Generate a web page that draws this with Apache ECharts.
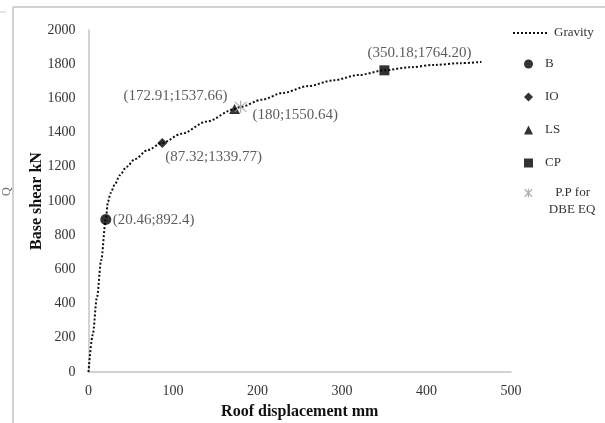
<!DOCTYPE html>
<html>
<head>
<meta charset="utf-8">
<script src="https://cdn.jsdelivr.net/npm/echarts@6/dist/echarts.min.js"></script>
<style>
  html, body { margin: 0; padding: 0; background: #fff; }
  #chart { width: 605px; height: 423px; }
</style>
</head>
<body>
<div id="chart"></div>
<script>
// Pushover (capacity) curve under gravity load: roof displacement (mm) vs base shear (kN)
const gravityDisp  = [0, 5, 10, 15, 20.46, 23, 26, 31, 37, 45, 55, 70, 87.32, 110, 140, 172.91, 180, 205, 230, 260, 290, 320, 350.18, 380, 410, 440, 465];
const gravityShear = [0, 218, 436, 654, 892.4, 995, 1045, 1095, 1150, 1200, 1245, 1298, 1339.77, 1393, 1465, 1537.66, 1550.64, 1592, 1632, 1672, 1706, 1737, 1764.20, 1782, 1796, 1806, 1813];

// Performance levels marked on the curve (values kept as written in the labels)
const levelNames = ['B', 'IO', 'LS', 'CP', 'P.P for DBE EQ'];
const levelDisp  = ['20.46', '87.32', '172.91', '350.18', '180'];
const levelShear = ['892.4', '1339.77', '1537.66', '1764.20', '1550.64'];

// Axis ranges and tick spacing
const xTicks = { min: 0, max: 500, interval: 100 };
const yTicks = { min: 0, max: 2000, interval: 200 };

const FONT = '"Liberation Serif", "Times New Roman", serif';
const TEXT = '#333333';
const AXIS = '#c4c4c4';
const STAR = '#9a9a9a';

const asterisk = 'path://M0,0L10,10M10,0L0,10M5,-1L5,11';

const levelStyle = [
  { symbol: 'circle',   size: 11, color: '#000', label: { align: 'left',  offset: [7, 1] } },
  { symbol: 'diamond',  size: [10, 10], color: '#000', label: { align: 'left',  offset: [3, 14] } },
  { symbol: 'triangle', size: [11, 10], color: '#000', label: { align: 'right', offset: [-7, -13] } },
  { symbol: 'rect',     size: 10, color: '#000', label: { align: 'left',  offset: [-17, -17] } },
  { symbol: asterisk,   size: 12, color: 'transparent', border: STAR, label: { align: 'left', offset: [12, 8] } }
];

const series = [{
  name: 'Gravity',
  type: 'line',
  data: gravityDisp.map((d, i) => [d, gravityShear[i]]),
  symbol: 'none',
  showSymbol: false,
  smooth: 0.3,
  smoothMonotone: 'x',
  itemStyle: { color: '#111' },
  lineStyle: { color: '#111', width: 2, type: [2, 2] },
  z: 2
}];

levelNames.forEach((name, i) => {
  const s = levelStyle[i];
  series.push({
    name: name,
    type: 'scatter',
    data: [[levelDisp[i], levelShear[i]]],
    symbol: s.symbol,
    symbolSize: s.size,
    itemStyle: s.border
      ? { color: 'transparent', borderColor: s.border, borderWidth: 1.2 }
      : { color: s.color },
    label: {
      show: true,
      position: 'inside',
      align: s.label.align,
      verticalAlign: 'middle',
      offset: s.label.offset,
      formatter: () => '(' + levelDisp[i] + ';' + levelShear[i] + ')',
      fontFamily: FONT,
      fontSize: 15,
      color: TEXT
    },
    emphasis: { disabled: true },
    z: i === 4 ? 4 : 3
  });
});

const legendText = { fontFamily: FONT, fontSize: 13, color: TEXT, lineHeight: 14 };
const lastLevel = levelNames[levelNames.length - 1];

const option = {
  animation: false,
  backgroundColor: '#ffffff',
  grid: { left: 88.5, right: 94, top: 30, bottom: 51, containLabel: false, outerBoundsMode: 'none' },
  xAxis: {
    type: 'value',
    min: xTicks.min, max: xTicks.max, interval: xTicks.interval,
    name: 'Roof displacement mm',
    nameLocation: 'middle',
    nameGap: 32,
    nameMoveOverlap: false,
    nameTextStyle: { fontFamily: FONT, fontSize: 16, fontWeight: 'bold', color: '#111' },
    axisLine: { show: true, lineStyle: { color: AXIS, width: 1.5 } },
    axisTick: { show: false },
    splitLine: { show: false },
    axisLabel: { fontFamily: FONT, fontSize: 14, color: TEXT, margin: 12, formatter: (v) => String(v) }
  },
  yAxis: {
    type: 'value',
    min: yTicks.min, max: yTicks.max, interval: yTicks.interval,
    name: 'Base shear kN',
    nameLocation: 'middle',
    nameGap: 44,
    nameMoveOverlap: false,
    nameTextStyle: { fontFamily: FONT, fontSize: 16, fontWeight: 'bold', color: '#111' },
    axisLine: { show: true, lineStyle: { color: AXIS, width: 1.5 } },
    axisTick: { show: false },
    splitLine: { show: false },
    axisLabel: { fontFamily: FONT, fontSize: 14, color: TEXT, margin: 13, formatter: (v) => String(v) }
  },
  legend: [{
    data: [{ name: 'Gravity', itemStyle: { color: 'transparent', borderColor: 'transparent', borderWidth: 0, opacity: 0 } }],
    orient: 'vertical',
    left: 512, top: 26,
    padding: 0,
    itemWidth: 36, itemHeight: 10,
    selectedMode: false,
    textStyle: legendText
  }, {
    data: levelNames.slice(0, 4),
    orient: 'vertical',
    left: 524, top: 57,
    padding: 0,
    itemWidth: 9, itemHeight: 9,
    itemGap: 19,
    selectedMode: false,
    textStyle: Object.assign({}, legendText, { padding: [0, 0, 0, 7] })
  }, {
    data: [{
      name: lastLevel,
      itemStyle: { color: 'transparent', borderColor: STAR, borderWidth: 1.2 }
    }],
    // first line left blank so "P.P for" sits level with the marker
    formatter: () => '\n  P.P for\nDBE EQ',
    orient: 'vertical',
    left: 524, top: 167.5,
    padding: 0,
    itemWidth: 9, itemHeight: 9,
    selectedMode: false,
    textStyle: Object.assign({}, legendText, { padding: [0, 0, 0, 11], lineHeight: 17 })
  }],
  graphic: [
    { type: 'line', shape: { x1: 13, y1: 7, x2: 605, y2: 7 }, style: { stroke: '#d2d2d2', lineWidth: 2 }, silent: true },
    { type: 'line', shape: { x1: 13, y1: 7, x2: 13, y2: 423 }, style: { stroke: '#d2d2d2', lineWidth: 2 }, silent: true },
    { type: 'line', shape: { x1: 0, y1: 12, x2: 6, y2: 12 }, style: { stroke: '#c8c8c8', lineWidth: 1 }, silent: true },
    { type: 'text', x: 1, y: 196, rotation: Math.PI / 2, style: { text: 'Q', font: '12px ' + FONT, fill: '#666' }, silent: true }
  ],
  series: series
};

const chart = echarts.init(document.getElementById('chart'), null, { renderer: 'canvas' });
chart.setOption(option);
</script>
</body>
</html>
